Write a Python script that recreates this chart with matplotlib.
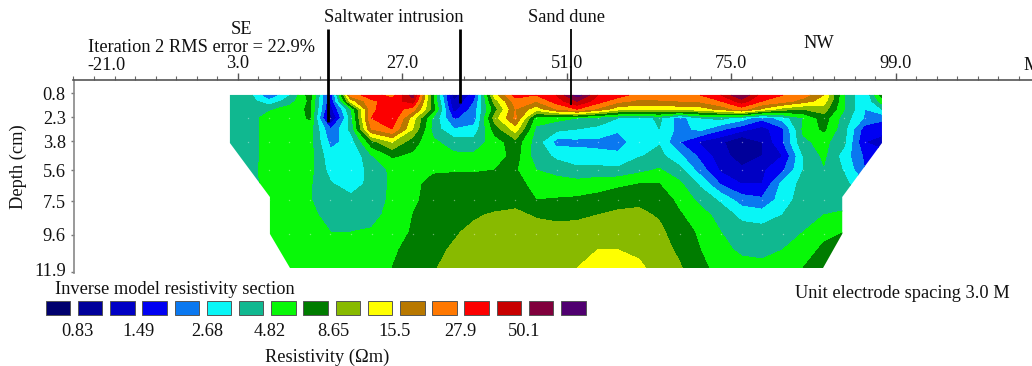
import numpy as np
import matplotlib
matplotlib.use("Agg")
import matplotlib.pyplot as plt
from matplotlib.colors import ListedColormap, BoundaryNorm
from matplotlib.patches import Polygon
from matplotlib.transforms import ScaledTranslation

W, H = 1032, 366
plt.rcParams['font.family'] = ['Liberation Serif', 'DejaVu Serif']
FS = 13.2

# ---------------- data -----------------
distance_m = [1.8] + [4.5 + 3 * i for i in range(31)] + [97.0]
depth_cm = [0.92, 1.30, 1.80, 2.35, 3.03, 3.84, 4.70, 5.57, 6.44, 7.43, 8.36, 9.42, 10.53, 11.65]
# colour band position of the resistivity at each node (0 = lowest band, 17 = top)
row_00 = [6.5,6.5,4.0,5.9,8.5, 3.0,12.5,13.5,12.5,15.5, 8.0,1.5,3.5,10.5,13.5, 13.0,14.0,16.5,14.0,13.5, 12.5,12.5,12.5,13.0,14.0, 16.0,13.5,13.0,12.5,11.0, 7.0,5.0,8.5]
row_01 = [6.5,6.5,5.2,6.5,8.2, 3.0,10.5,12.8,13.5,14.5, 8.0,2.0,4.0,9.5,12.5, 12.0,13.5,15.0,13.5,12.3, 11.8,11.9,12.0,12.2,13.0, 14.5,13.0,12.5,11.5,10.5, 7.0,5.0,7.5]
row_02 = [6.5,6.4,6.8,7.4,8.2, 2.5,7.0,12.8,13.6,12.5, 8.5,2.5,4.5,8.5,12.0, 10.4,12.0,13.0,11.8,10.4, 10.3,10.3,10.4,10.5,11.3, 12.5,10.8,9.5,9.0,9.5, 7.0,5.0,6.0]
row_03 = [6.3,6.4,7.5,7.5,8.1, 1.5,6.5,13.0,13.8,10.5, 6.8,3.8,4.5,9.5,12.2, 7.5,7.3,7.0,6.5,6.0, 5.5,6.2,4.5,6.0,6.3, 5.5,4.3,5.5,7.0,8.5, 6.5,4.9,4.2]
row_04 = [6.5,6.4,7.5,7.5,7.5, 4.0,6.3,12.0,13.0,10.0, 6.6,5.0,5.3,8.5,10.5, 6.8,6.3,6.0,5.8,5.2, 5.3,6.0,4.6,5.3,4.2, 3.4,2.6,3.8,7.2,8.2, 6.3,3.5,3.5]
row_05 = [6.3,6.4,7.5,7.5,7.3, 4.7,5.4,8.6,10.0,8.4, 7.2,6.5,6.4,7.5,8.6, 6.5,4.6,4.7,4.7,4.4, 5.7,5.9,4.0,2.8,2.2, 1.0,2.0,3.9,6.8,7.3, 6.2,3.0,2.5]
row_06 = [6.3,6.4,7.5,7.6,7.4, 5.3,5.0,6.9,8.1,7.8, 7.3,7.2,7.2,7.4,8.4, 6.5,5.8,5.5,5.3,5.3, 5.9,6.3,5.2,3.7,2.4, 1.5,2.0,3.0,6.0,7.2, 5.5,3.8,3.5]
row_07 = [6.2,6.5,7.5,7.6,7.3, 5.6,5.2,6.4,7.2,7.6, 7.85,7.9,7.9,8.0,8.1, 7.0,6.5,6.2,6.3,6.2, 6.7,7.1,6.3,4.5,2.8, 2.2,2.8,3.8,6.0,6.9, 5.9,4.0,4.0]
row_08 = [6.4,6.4,7.5,7.6,7.1, 6.1,5.5,6.3,7.2,7.7, 8.35,8.4,8.4,8.4,8.4, 7.6,7.6,7.4,7.6,7.8, 8.0,8.0,7.2,5.8,3.9, 3.0,3.0,5.3,6.3,6.6, 6.3,5.0,5.0]
row_09 = [7.4,7.4,7.4,7.6,7.05, 6.5,6.3,6.5,7.2,7.8, 8.4,8.5,8.6,8.6,8.7, 8.0,8.05,8.15,8.3,8.6, 8.8,8.6,7.7,6.7,5.8, 4.5,4.2,5.5,6.5,6.8, 6.5,6.8,6.8]
row_10 = [7.6,7.6,7.6,7.7,7.2, 6.7,6.5,6.7,7.3,8.0, 8.5,8.7,8.9,9.1,9.2, 8.9,8.8,8.8,9.0,9.2, 9.2,8.9,8.1,7.4,6.6, 5.7,5.5,6.0,6.7,7.0, 7.2,7.2,7.2]
row_11 = [7.7,7.7,7.7,7.7,7.4, 7.0,7.0,7.1,7.5,8.1, 8.6,8.9,9.2,9.4,9.5, 9.4,9.3,9.4,9.6,9.6, 9.5,9.2,8.5,7.8,7.0, 6.5,6.4,6.6,7.0,7.6, 8.0,8.0,8.0]
row_12 = [7.7,7.7,7.7,7.7,7.6, 7.4,7.3,7.4,7.8,8.4, 8.8,9.1,9.4,9.6,9.7, 9.7,9.7,9.8,10.0,10.0, 9.8,9.4,8.8,8.0,7.3, 6.8,6.7,7.0,7.3,8.3, 8.7,8.7,8.7]
row_13 = [7.7,7.7,7.7,7.7,7.7, 7.6,7.5,7.5,8.0,8.5, 8.95,9.2,9.4,9.6,9.7, 9.7,9.8,10.0,10.4,10.5, 10.2,9.6,9.1,8.2,7.7, 7.4,7.3,7.6,8.0,8.6, 8.8,8.8,8.8]
band_rows = [row_00, row_01, row_02, row_03, row_04, row_05, row_06,
             row_07, row_08, row_09, row_10, row_11, row_12, row_13]

section_x = [1.83, 1.83, 7.67, 7.67, 10.6, 88.4, 91.2, 91.2, 97.0, 97.0]
section_d = [0.92, 3.90, 7.25, 9.54, 11.65, 11.65, 9.54, 7.25, 3.90, 0.92]

electrode_x = [4.5 + 3 * i for i in range(31)]
electrode_d = [2.35, 3.84, 5.57, 7.43, 9.54]

band_colors = ['#00006e', '#00009a', '#0000c4', '#0000f2', '#0a78f0', '#08f6f6',
               '#10b890', '#08f808', '#007c00', '#88ba00', '#ffff00', '#b87800',
               '#ff7800', '#fc0000', '#c80000', '#80003c', '#500070']
scale_labels = ['0.83', '1.49', '2.68', '4.82', '8.65', '15.5', '27.9', '50.1']
scale_label_px = [77, 138, 207, 270, 333, 395, 460, 524]

x_ticks = [3, 27, 51, 75, 99]
x_labels = ['3.0', '27.0', '51.0', '75.0', '99.0']
x_minor = [-21 + 3 * i for i in range(47)]
y_ticks = [0.8, 2.3, 3.8, 5.6, 7.5, 9.6, 11.9]
y_labels = ['0.8', '2.3', '3.8', '5.6', '7.5', '9.6', '11.9']

marker_x = [16.1, 35.4, 51.6]
marker_end = [2.6, 1.42, 1.54]
marker_w = [2.0, 2.0, 1.3]

# ---------------- figure -----------------
fig = plt.figure(figsize=(W / 100, H / 100), dpi=100, facecolor='white')


def fx(px):
    return px / W


def fy(py):
    return 1 - py / H


def label(px, py, s, **kw):
    kw.setdefault('ha', 'center')
    kw.setdefault('va', 'center')
    kw.setdefault('fontsize', FS)
    kw.setdefault('color', '#111111')
    fig.text(fx(px), fy(py), s, **kw)


ax = fig.add_axes([fx(73.5), fy(273), fx(1032 - 73.5), (273 - 80) / H])
ax.set_xlim(-21, 118.9)
ax.set_ylim(11.96, -0.006)

cmap = ListedColormap(band_colors)
levels = np.arange(0, 18)
norm = BoundaryNorm(levels, cmap.N)
cf = ax.contourf(distance_m, depth_cm, np.array(band_rows), levels=levels, cmap=cmap, norm=norm)
clip = Polygon(np.column_stack([section_x, section_d]), closed=True, transform=ax.transData,
               facecolor='none', edgecolor='none')
ax.add_patch(clip)
cf.set_clip_path(clip)

xx, dd = np.meshgrid(electrode_x, electrode_d)
dots = ax.scatter(xx.ravel(), dd.ravel(), s=1.0, c='white', alpha=0.4, linewidths=0, zorder=3)
dots.set_clip_path(clip)

ax.xaxis.tick_top()
ax.set_xticks(x_ticks)
ax.set_xticklabels(x_labels, fontsize=FS, color='#111111')
ax.set_xticks(x_minor, minor=True)
ax.tick_params(axis='x', which='major', length=5, width=1.0, color='#555555', pad=1)
ax.tick_params(axis='x', which='minor', length=3, width=0.8, color='#666666')
ax.set_yticks(y_ticks)
ax.set_yticklabels(y_labels, fontsize=FS, color='#111111')
ax.tick_params(axis='y', length=2.5, width=1.0, color='#777777', pad=3)
ax.get_yticklabels()[-1].set_transform(
    ax.get_yticklabels()[-1].get_transform() + ScaledTranslation(0, 3 / 100, fig.dpi_scale_trans))
for s in ('right', 'bottom'):
    ax.spines[s].set_visible(False)
ax.spines['top'].set_color('#555555')
ax.spines['top'].set_linewidth(1.2)
ax.spines['left'].set_color('#888888')
ax.spines['left'].set_linewidth(1.2)

ax.vlines(marker_x, -3.17, marker_end, colors='#000000', linewidths=marker_w, clip_on=False, zorder=5)

label(18, 167, 'Depth (cm)', rotation=90)
label(242, 29, 'SE')
label(88, 47, 'Iteration 2 RMS error = 22.9%', ha='left')
label(107, 65, '-21.0')
label(1023, 65, 'M', ha='left')
label(819, 44, 'NW')
label(394, 18, 'Saltwater intrusion')
label(567, 18, 'Sand dune')
label(55, 290, 'Inverse model resistivity section', ha='left')
label(327, 357, 'Resistivity (\u03a9m)')
label(795, 293, 'Unit electrode spacing 3.0 M', ha='left')
for px, s in zip(scale_label_px, scale_labels):
    label(px, 332, s)

leg = fig.add_axes([fx(41.9), fy(318), fx(547.5), (318 - 297.5) / H])
leg.axis('off')
idx = np.arange(len(band_colors))
leg.bar(idx, np.ones(len(idx)), width=0.76, color=band_colors, edgecolor='#555555', linewidth=0.7)
leg.set_xlim(-0.5, 16.5)
leg.set_ylim(-0.22, 1.22)

fig.savefig('out.png', dpi=100, facecolor='white')
